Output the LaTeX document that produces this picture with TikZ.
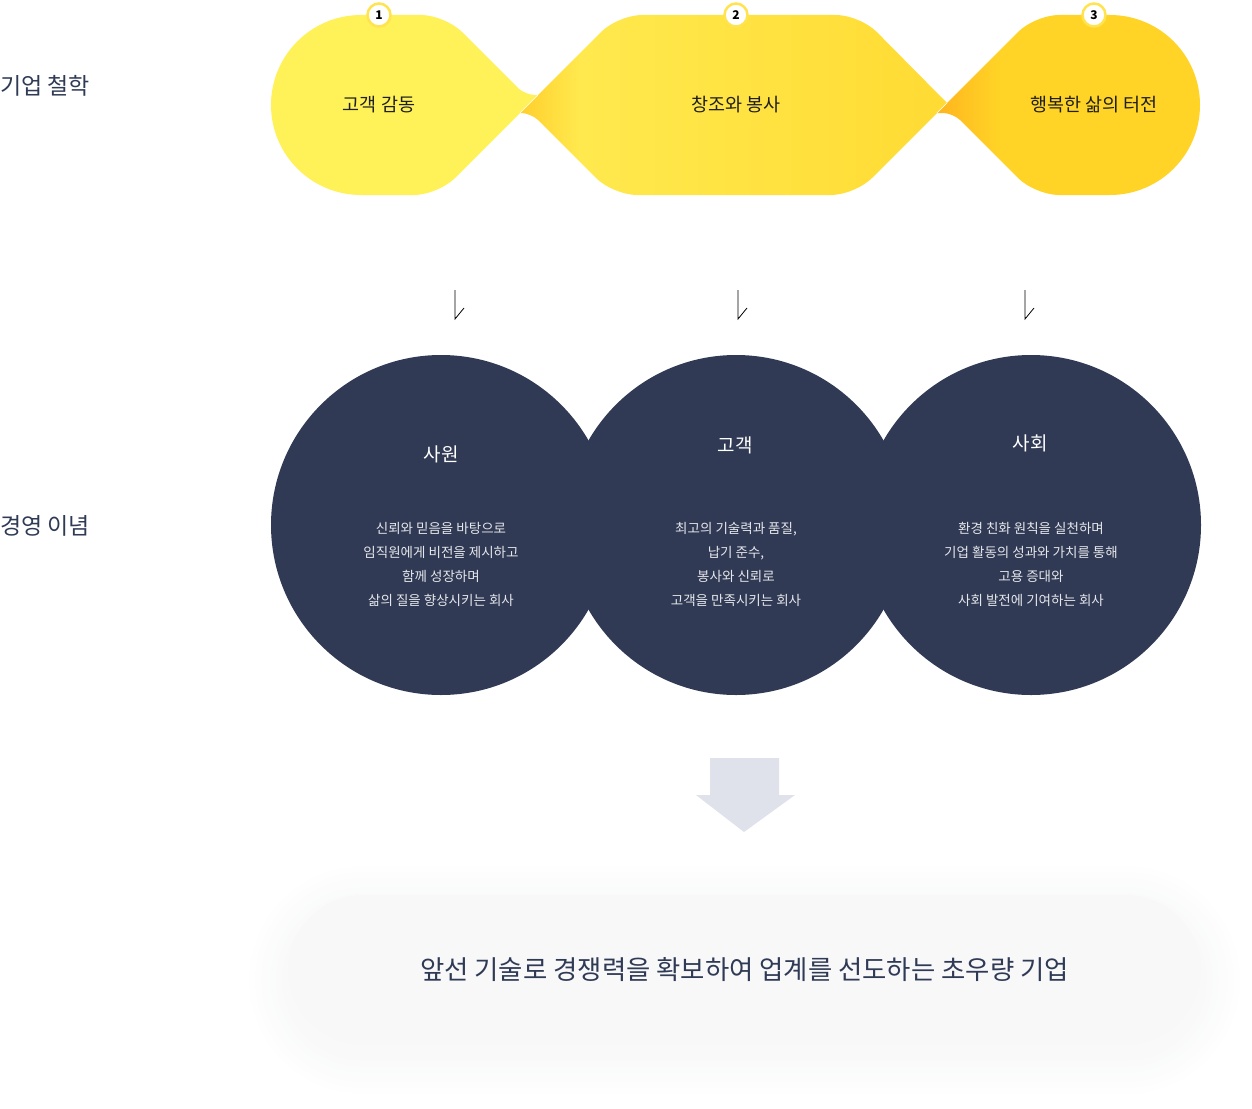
\documentclass[tikz,border=0pt]{standalone}
\usepackage{fontspec}
\newfontfamily\kr{Noto Sans CJK KR}
\usetikzlibrary{positioning}

\definecolor{navy}{HTML}{303A55}
\definecolor{ink}{HTML}{2F3A55}
\definecolor{yelA}{HTML}{FFF158}
\definecolor{yelB}{HTML}{FFE94E}
\definecolor{yelBtip}{HTML}{FFCF2C}
\definecolor{yelBend}{HTML}{FFDB33}
\definecolor{yelC}{HTML}{FFD426}
\definecolor{yelCtip}{HTML}{FFB51E}
\definecolor{ring}{HTML}{FFE44F}
\definecolor{pillgray}{HTML}{F8F8F9}
\definecolor{arrowgray}{HTML}{DFE1EB}
\definecolor{shadowc}{HTML}{8C90A0}

\pgfdeclarehorizontalshading{shadeB}{100bp}{color(0bp)=(yelBtip); color(25bp)=(yelBtip); color(32bp)=(yelB); color(75bp)=(yelBend); color(100bp)=(yelBend)}
\pgfdeclarehorizontalshading{shadeC}{100bp}{color(0bp)=(yelCtip); color(25bp)=(yelCtip); color(37bp)=(yelC); color(100bp)=(yelC)}

\begin{document}
\begin{tikzpicture}[x=1pt, y=-1pt,
    side/.style={font=\kr\fontsize{23}{27}\selectfont, text=ink, anchor=west, inner sep=0},
    value/.style={font=\kr\fontsize{18.5}{22}\selectfont, text=black!88},
    badge/.style={circle, draw=ring, line width=2.5pt, fill=white, minimum size=23pt, inner sep=0,
      font=\kr\bfseries\fontsize{12}{13}\selectfont},
    disc/.style={circle, fill=navy, minimum size=340pt, inner sep=0},
    title/.style={font=\kr\fontsize{19}{22}\selectfont, text=white},
    body/.style={font=\kr\fontsize{13.5}{24}\selectfont, text=white!88!navy, align=center},
    tick/.style={draw=black, line width=0.8pt},
    pill/.style={rounded corners=75pt, fill=pillgray, minimum width=913pt, minimum height=150pt,
      font=\kr\fontsize{26.4}{30}\selectfont, text=ink}]
  \useasboundingbox (0,0) rectangle (1252,1108);

  % Philosophy shapes
  \fill[yelA] (361,195) arc (90:270:90) [rounded corners=24pt] -- (445,15) [rounded corners=10pt]
    -- (525,95) [sharp corners] -- (538,95) [rounded corners=24pt] -- (438,195) [sharp corners] -- cycle;
  \path[shading=shadeB] (739,15) [rounded corners=24pt] -- (860,15) [sharp corners] -- (947,103)
    [rounded corners=24pt] -- (855,195) -- (613,195) [rounded corners=10pt]
    -- (531,113) [sharp corners] -- (520,113) [rounded corners=24pt] -- (618,15) [sharp corners] -- cycle;
  \path[shading=shadeC] (1110,15) arc (-90:90:90) [rounded corners=24pt] -- (1035,195) [rounded corners=10pt]
    -- (953,113) [sharp corners] -- (937,113) [rounded corners=24pt] -- (1035,15) [sharp corners] -- cycle;
  \draw[white, line width=0.6pt] (520,113) -- (538,95);
  \draw[white, line width=0.6pt] (937,113) -- (947,103);

  % Nodes
  \node[side] (phil) at (0,86) {기업 철학};
  \node[side] (mgmt) at (0,526) {경영 이념};

  \node[value] (v1) at (379,105) {고객 감동};
  \node[value] (v2) at (736,105) {창조와 봉사};
  \node[value] (v3) at (1094,105) {행복한 삶의 터전};
  \node[badge] (b1) at (379,15) {1};
  \node[badge] (b2) at (736,15) {2};
  \node[badge] (b3) at (1094,15) {3};

  \node[disc] (c1) at (441,525) {};
  \node[disc] (c2) at (736,525) {};
  \node[disc] (c3) at (1031,525) {};
  \node[title] (h1) at (441,454) {사원};
  \node[title] (h2) at (735,445) {고객};
  \node[title] (h3) at (1030,443) {사회};
  \node[body] (t1) at (441,564) {신뢰와 믿음을 바탕으로\\임직원에게 비전을 제시하고\\함께 성장하며\\삶의 질을 향상시키는 회사};
  \node[body] (t2) at (736,564) {최고의 기술력과 품질,\\납기 준수,\\봉사와 신뢰로\\고객을 만족시키는 회사};
  \node[body] (t3) at (1031,564) {환경 친화 원칙을 실천하며\\기업 활동의 성과와 가치를 통해\\고용 증대와\\사회 발전에 기여하는 회사};

  % Edges
  \foreach \n/\x in {1/455, 2/738, 3/1025} {
    \coordinate (d\n) at (\x,290);
    \coordinate (e\n) at (\x,319);
    \draw[tick] (d\n) -- (e\n) -- ++(9,-11);
  }

  % Goal
  \fill[arrowgray] (710,758) -- (779,758) -- (779,795) -- (795,795) -- (744,832) -- (696,795) -- (710,795) -- cycle;
  \foreach \i in {1,...,14} {
    \pgfmathsetmacro\rr{75+3*\i}
    \fill[shadowc, opacity=0.004, rounded corners=\rr pt] (288-3*\i, 905-3*\i) rectangle (1201+3*\i, 1055+3*\i);
  }
  \node[pill] (goal) at (744.5,970) {앞선 기술로 경쟁력을 확보하여 업계를 선도하는 초우량 기업};
\end{tikzpicture}
\end{document}
